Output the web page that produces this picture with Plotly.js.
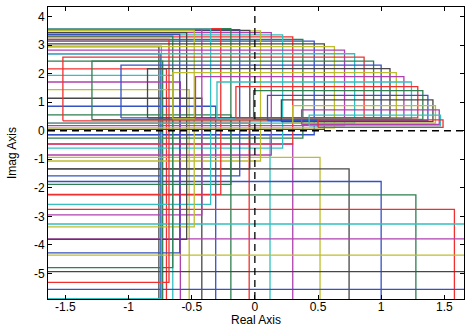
<!DOCTYPE html>
<html>
<head>
<meta charset="utf-8">
<script src="https://cdn.plot.ly/plotly-3.0.1.min.js"></script>
<style>html,body{margin:0;padding:0;background:#fff;}#chart{width:465px;height:327px;}</style>
</head>
<body>
<div id="chart"></div>
<script>
// ---- data ----
// C-shaped branches: from left edge at top level, right to cRight, down to cBottom, back to left edge
const cRight  = [0.47, 0.38, 0.30, 0.22, 0.13, 0.045, -0.04, -0.12, -0.19, -0.27, -0.35, -0.42, -0.48, -0.54, -0.595, -0.65, -0.68, -0.74];
const cTop    = [3.14, 3.20, 3.29, 3.36, 3.44, 3.50, 3.52, 3.55, 3.58, 3.58, 3.57, 3.55, 3.52, 3.44, 3.38, 3.32, 3.20, 2.97];
const cBottom = [-0.14, -0.26, -0.46, -0.61, -0.85, -1.06, -1.34, -1.58, -1.88, -2.23, -2.58, -2.95, -3.37, -3.81, -4.28, -4.80, -5.32, -5.89];
// upper rectangles
const uLeft   = [-2, -2, -2, -2, -1.52, -1.29, -1.06, -0.85, -0.65, -0.47, -0.30, -0.15, -0.01, 0.10, 0.21, 0.30, 0.37, 0.43, 0.50];
const uRight  = [0.55, 0.63, 0.71, 0.79, 0.865, 0.94, 1.00, 1.07, 1.12, 1.18, 1.24, 1.29, 1.33, 1.37, 1.41, 1.43, 1.46, 1.47, 1.49];
const uTop    = [3.05, 2.95, 2.83, 2.70, 2.58, 2.44, 2.30, 2.18, 2.04, 1.90, 1.71, 1.55, 1.41, 1.24, 1.08, 0.88, 0.73, 0.55, 0.38];
const uBottom = [0.05, 0.10, 0.18, 0.27, 0.35, 0.39, 0.45, 0.45, 0.42, 0.42, 0.42, 0.45, 0.40, 0.36, 0.32, 0.27, 0.22, 0.17, 0.12];
// downward L branches: from left edge at dLevel, right to dCorner, then down out of view
const dCorner = [-0.76, -0.745, -0.73, -0.70, -0.65, -0.59, -0.52, -0.42, -0.31, -0.19, -0.045, 0.12, 0.30, 0.516, 0.746, 1.00, 1.275, 1.58, 1.9, 2.2, 2.5, 2.8, 3.1];
const dLevel  = [2.95, 2.70, 2.44, 2.17, 1.94, 1.71, 1.44, 1.14, 0.86, 0.56, 0.27, -0.14, -0.47, -0.93, -1.34, -1.78, -2.25, -2.76, -3.27, -3.79, -4.36, -4.94, -5.56];
const xTickVals = [-1.5, -1, -0.5, 0, 0.5, 1, 1.5];
const xTickText = ['-1.5', '-1', '-0.5', '0', '0.5', '1', '1.5'];
const yTickVals = [-5, -4, -3, -2, -1, 0, 1, 2, 3, 4];
const yTickText = ['-5', '-4', '-3', '-2', '-1', '0', '1', '2', '3', '4'];

// ---- styling ----
const pal = ['#3552c4', '#2f7f50', '#f03030', '#33c0c0', '#b040b0', '#bdbd30', '#474747'];
const xEdge = -2, yFloor = -7;
const traces = [];
function add(x, y, c) {
  traces.push({type: 'scatter', mode: 'lines', x: x, y: y, hoverinfo: 'skip',
    line: {color: c, width: 1.3}, showlegend: false});
}
dCorner.forEach((x, i) => add([xEdge, x, x], [dLevel[i], dLevel[i], yFloor], pal[(i + 6) % 7]));
cRight.forEach((r, k) => add([xEdge, r, r, xEdge], [cTop[k], cTop[k], cBottom[k], cBottom[k]], pal[k % 7]));
uRight.forEach((r, m) => add([uLeft[m], uLeft[m], r, r, uLeft[m]],
  [uBottom[m], uTop[m], uTop[m], uBottom[m], uBottom[m]], pal[6 - (m % 7)]));

const font = {family: 'Liberation Sans, Arial, sans-serif', size: 12, color: '#000'};
const layout = {
  width: 465, height: 327,
  margin: {l: 48, r: 1, t: 7, b: 28},
  paper_bgcolor: '#fff', plot_bgcolor: '#fff',
  font: font,
  showlegend: false,
  xaxis: {range: [-1.638, 1.656], tickmode: 'array', tickvals: xTickVals, ticktext: xTickText,
    ticks: 'inside', ticklen: 4, tickcolor: '#000', showline: true, linecolor: '#000', linewidth: 1,
    mirror: 'allticks', showgrid: false, zeroline: false, tickfont: font, ticklabelstandoff: -3,
    title: {text: 'Real Axis', font: font, standoff: 3}, automargin: false},
  yaxis: {range: [-5.9, 4.34], tickmode: 'array', tickvals: yTickVals, ticktext: yTickText,
    ticks: 'inside', ticklen: 4, tickcolor: '#000', showline: true, linecolor: '#000', linewidth: 1,
    mirror: 'allticks', showgrid: false, zeroline: false, tickfont: font,
    title: {text: 'Imag Axis', font: font, standoff: 14}, automargin: false},
  shapes: [
    {type: 'line', xref: 'x', yref: 'paper', x0: 0, x1: 0, y0: 0, y1: 1, layer: 'above',
      line: {color: '#000', width: 1.3, dash: '7px,5px'}},
    {type: 'line', xref: 'paper', yref: 'y', x0: 0, x1: 1, y0: 0, y1: 0, layer: 'above',
      line: {color: '#000', width: 1.3, dash: '7px,5px'}}
  ]
};
Plotly.newPlot('chart', traces, layout, {staticPlot: true, displayModeBar: false});
</script>
</body>
</html>
